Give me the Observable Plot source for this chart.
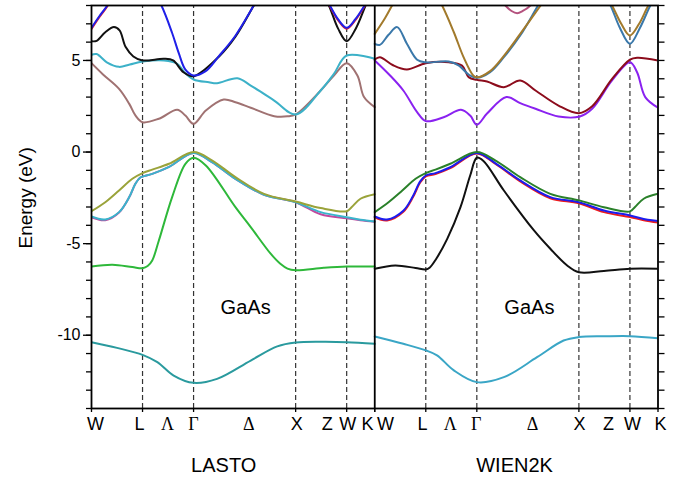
<!DOCTYPE html>
<html><head><meta charset="utf-8">
<script src="https://cdn.jsdelivr.net/npm/d3@7"></script>
<script src="https://cdn.jsdelivr.net/npm/@observablehq/plot@0.6"></script>
<style>body{margin:0;background:#fff}</style>
</head><body><div id="chart"></div>
<script>
// k-path: W L Γ X W K  (panel units)
const K = 5.55;
const symPoints = [1, 2, 4, 5];
const kTickPoints = [0, 1, 2, 4, 5, 5.55];
const kLabels = ["W", "L", "Λ", "Γ", "Δ", "X", "Z", "W", "K"];
const kLabelPosL = [0.08, 0.94, 1.49, 2.0, 3.08, 4.02, 4.62, 5.02, 5.41];
const kLabelPosR = [0.21, 0.935, 1.48, 1.99, 3.09, 4.01, 4.58, 5.05, 5.6];
const panelTitles = ["LASTO", "WIEN2K"];
const panelTitlePos = [2.59, 8.29];
const materialLabel = "GaAs";
const materialPos = [[3.02, -8.47], [8.58, -8.47]];
const yMajor = [-10, -5, 0, 5];
const yTitle = "Energy (eV)";
const yTitlePos = [-1.29, -2.5];

// ---------- LASTO bands [k, E] ----------
const lastoCore = [[0,-10.38],[0.5,-10.69],[1,-11.07],[1.29,-11.47],[1.61,-12.2],[2,-12.6],[2.46,-12.38],[3.12,-11.38],[3.64,-10.61],[4,-10.4],[4.5,-10.36],[5,-10.38],[5.55,-10.47]];
const lastoS = [[0,-6.25],[0.41,-6.15],[0.8,-6.28],[1,-6.34],[1.1,-6.22],[1.19,-5.92],[1.32,-4.83],[1.58,-2.46],[1.84,-0.64],[2,-0.31],[2.24,-0.73],[2.82,-3.01],[3.12,-4.1],[3.51,-5.55],[3.7,-6.1],[3.84,-6.36],[4,-6.45],[4.55,-6.32],[5,-6.25],[5.55,-6.25]];
const lastoV3 = [[0,-3.56],[0.27,-3.72],[0.54,-3.3],[0.74,-2.46],[0.86,-1.73],[0.95,-1.4],[1,-1.34],[1.19,-1.19],[1.52,-0.81],[2,-0.05],[2.36,-0.55],[2.82,-1.46],[3.38,-2.33],[4,-2.74],[4.49,-3.4],[5,-3.62],[5.27,-3.72],[5.55,-3.8]];
const lastoV2 = [[0,-3.52],[0.27,-3.68],[0.54,-3.28],[0.74,-2.46],[0.86,-1.73],[0.95,-1.4],[1,-1.34],[1.19,-1.19],[1.52,-0.81],[2,-0.05],[2.36,-0.55],[2.82,-1.46],[3.38,-2.33],[4,-2.74],[4.49,-3.28],[5,-3.56],[5.27,-3.7],[5.55,-3.79]];
const lastoV1 = [[0,-3.23],[0.27,-2.74],[0.54,-2.1],[0.8,-1.46],[1,-1.15],[1.19,-0.96],[1.52,-0.64],[2,0],[2.36,-0.45],[2.82,-1.37],[3.38,-2.28],[4,-2.7],[4.49,-3.06],[5,-3.23],[5.1,-3.0],[5.27,-2.55],[5.55,-2.3]];
const lastoC1 = [[0,4.85],[0.22,4.25],[0.54,3.45],[0.74,2.63],[0.86,2.0],[1,1.63],[1.32,1.82],[1.68,2.31],[1.84,1.99],[2,1.54],[2.24,2.27],[2.59,2.87],[2.82,2.72],[3.12,2.42],[3.58,1.96],[3.84,1.95],[4,2.05],[4.49,3.36],[4.75,4.18],[5,4.85],[5.21,4.18],[5.34,3.0],[5.55,2.45]];
const lastoC2 = [[0,5.31],[0.1,5.35],[0.3,4.9],[0.54,4.65],[0.75,4.78],[1,4.94],[1.42,5.0],[1.68,4.82],[1.84,4.3],[2,3.96],[2.3,3.81],[2.46,3.76],[2.86,4.03],[3.12,3.63],[3.58,2.81],[4,2.05],[4.49,3.36],[4.75,4.27],[5,5.27],[5.55,5.09]];
const lastoC3 = [[0,6.05],[0.1,6.07],[0.27,6.54],[0.44,6.82],[0.55,6.64],[0.67,5.73],[0.82,5.22],[1,5.0],[1.42,5.09],[1.6,5.0],[1.8,4.36],[2,4.14],[2.5,5.22],[2.82,6.3],[3.18,8.0],[3.35,8.8],null,[4.48,8.8],[4.65,8.0],[4.83,6.75],[5,6.05],[5.18,6.75],[5.37,8.0],[5.5,8.8]];
const lastoC4r = [[0,6.72],[0.15,7.35],[0.31,7.96],[0.45,8.7],null,[4.5,8.8],[4.67,7.96],[4.83,7.2],[5,6.73],[5.17,7.2],[5.35,7.96],[5.5,8.7]];
const lastoC4 = [[0,6.78],[0.15,7.4],[0.31,8.0],[0.45,8.7],null,[1.2,8.8],[1.37,8.0],[1.58,6.5],[1.71,5.4],[1.84,4.5],[2,4.18],[2.23,4.4],[2.5,5.25],[2.82,6.35],[3.18,8.0],[3.35,8.8],null,[4.5,8.8],[4.67,8.0],[4.83,7.25],[5,6.78],[5.17,7.25],[5.35,8.0],[5.5,8.7]];

// ---------- WIEN2K bands [k, E] ----------
const wienCore = [[0,-10.07],[0.56,-10.47],[1,-10.83],[1.22,-11.1],[1.55,-11.92],[2,-12.56],[2.53,-12.29],[3.18,-11.2],[3.7,-10.29],[4,-10.1],[4.5,-10.06],[5,-10.05],[5.55,-10.16]];
const wienS = [[0,-6.37],[0.4,-6.19],[0.8,-6.33],[1,-6.41],[1.08,-6.3],[1.2,-5.85],[1.42,-4.74],[1.68,-3.01],[1.87,-1.28],[2,-0.31],[2.13,-0.49],[2.53,-2.1],[3.12,-4.28],[3.44,-5.28],[3.77,-6.19],[4,-6.56],[4.49,-6.49],[5,-6.37],[5.55,-6.37]];
const wienV3 = [[0,-3.57],[0.24,-3.74],[0.56,-3.26],[0.75,-2.46],[0.89,-1.66],[1,-1.33],[1.19,-1.2],[1.48,-0.88],[2,-0.08],[2.36,-0.64],[2.85,-1.6],[3.44,-2.52],[4,-2.8],[4.49,-3.28],[5,-3.55],[5.27,-3.72],[5.55,-3.85]];
const wienV2 = [[0,-3.52],[0.24,-3.68],[0.56,-3.2],[0.75,-2.4],[0.89,-1.6],[1,-1.28],[1.19,-1.15],[1.48,-0.83],[2,-0.05],[2.36,-0.6],[2.85,-1.55],[3.44,-2.46],[4,-2.74],[4.49,-3.19],[5,-3.46],[5.27,-3.65],[5.55,-3.77]];
const wienV1 = [[0,-3.28],[0.27,-2.74],[0.54,-2.1],[0.8,-1.46],[1,-1.15],[1.19,-0.96],[1.48,-0.64],[2,0],[2.36,-0.45],[2.85,-1.37],[3.44,-2.28],[4,-2.64],[4.49,-3.01],[5,-3.24],[5.1,-3.0],[5.27,-2.55],[5.55,-2.28]];
const wienC1 = [[0,5.0],[0.3,4.18],[0.56,3.36],[0.83,2.18],[1,1.69],[1.35,1.9],[1.69,2.31],[1.87,1.99],[2,1.49],[2.2,2.1],[2.58,3.0],[2.85,2.67],[3.15,2.36],[3.6,1.94],[4.02,1.94],[4.26,2.36],[4.65,3.91],[5,4.9],[5.14,4.36],[5.3,3.0],[5.55,2.42]];
const wienC2 = [[0,5.05],[0.1,5.18],[0.35,4.75],[0.63,4.51],[1,4.85],[1.45,4.9],[1.71,4.72],[1.84,4.09],[2,3.94],[2.2,3.85],[2.53,3.54],[2.85,3.91],[3.15,3.36],[3.6,2.54],[4,2.12],[4.26,2.5],[4.65,3.99],[5,5.04],[5.14,5.15],[5.55,5.0]];
const wienC3 = [[0,5.91],[0.1,5.85],[0.27,6.4],[0.44,6.82],[0.63,5.91],[0.83,5.04],[1,4.9],[1.45,4.94],[1.65,4.72],[1.84,4.23],[2,4.05],[2.26,4.36],[2.53,5.18],[2.85,6.36],[3.2,8.0],[3.38,8.8],null,[4.45,8.8],[4.62,8.0],[4.8,6.8],[5,5.91],[5.2,6.8],[5.4,8.0],[5.55,8.7]];
const wienC4 = [[0,6.45],[0.2,7.3],[0.34,8.0],[0.5,8.8],null,[1.15,8.8],[1.32,8.0],[1.55,6.54],[1.74,5.18],[1.93,4.18],[2,4.08],[2.26,4.42],[2.53,5.25],[2.85,6.45],[3.25,8.0],[3.4,8.6],null,[4.48,8.8],[4.65,8.0],[4.83,7.0],[5,6.36],[5.18,7.0],[5.36,8.0],[5.5,8.6]];
const wienC5 = [[2.45,8.4],[2.56,8.0],[2.68,7.7],[2.79,7.58],[2.9,7.7],[3.05,8.0],[3.15,8.4]];

// ---------- styles ----------
const lastoStyle = [
  [lastoCore, "#2a9a9e"], [lastoS, "#2eb83a"], [lastoV3, "#c2489e"], [lastoV2, "#3ab4cc"],
  [lastoV1, "#9aa33a"], [lastoC1, "#a07272"], [lastoC2, "#3cb1c8"], [lastoC3, "#111111"],
  [lastoC4r, "#e8202a"], [lastoC4, "#2020e8"]
];
const wienStyle = [
  [wienCore, "#3aa6c6"], [wienS, "#111111"], [wienV3, "#ee1c1c"], [wienV2, "#1c1cee"],
  [wienV1, "#2a802a"], [wienC1, "#8a22f0"], [wienC2, "#8c0c1c"], [wienC3, "#3a78aa"],
  [wienC4, "#a27a2c"], [wienC5, "#b4527e"]
];

const toRows = (arr, off) => arr.map(p => p == null ? {x: NaN, E: NaN} : {x: p[0] + off, E: p[1]});

const bandMarks = [];
for (const [arr, color] of lastoStyle) bandMarks.push(Plot.line(toRows(arr, 0), {x: "x", y: "E", stroke: color, strokeWidth: 2, curve: "catmull-rom", clip: true}));
for (const [arr, color] of wienStyle) bandMarks.push(Plot.line(toRows(arr, K), {x: "x", y: "E", stroke: color, strokeWidth: 2, curve: "catmull-rom", clip: true}));

const dashX = [...symPoints, ...symPoints.map(d => d + K)];
const tickX = [...kTickPoints, ...kTickPoints.map(d => d + K)];
const labelRows = [
  ...kLabels.map((t, i) => ({t, x: kLabelPosL[i]})),
  ...kLabels.map((t, i) => ({t, x: kLabelPosR[i] + K}))
];
const isGreek = t => /[\u0370-\u03FF]/.test(t);
const sans = "Liberation Sans, Arial, Helvetica, sans-serif";

const chart = Plot.plot({
  width: 682, height: 481,
  marginLeft: 91, marginRight: 24.5, marginTop: 5, marginBottom: 73,
  style: {fontFamily: sans, fontSize: "16px", color: "black", background: "white"},
  x: {domain: [0, 2 * K]},
  y: {domain: [-14, 8], label: null},
  marks: [
    Plot.ruleX(dashX, {y1: -14, y2: 8, stroke: "#333", strokeWidth: 1.2, strokeDasharray: "5,3"}),
    ...bandMarks,
    Plot.frame({stroke: "black", strokeWidth: 1.8}),
    Plot.ruleX([K], {y1: -14, y2: 8, stroke: "black", strokeWidth: 1.8}),
    Plot.axisY({anchor: "left", ticks: yMajor, tickSize: 8, tickPadding: 3, tickFormat: d => String(d), fontSize: 16, label: null, strokeWidth: 1.3}),
    Plot.axisY({anchor: "left", ticks: d3.range(-14, 9), tickSize: 5, tickFormat: () => "", label: null, strokeWidth: 1.3}),
    Plot.axisY({anchor: "right", ticks: d3.range(-14, 9), tickSize: 6, tickFormat: () => "", label: null, strokeWidth: 1.3}),
    Plot.axisX({ticks: tickX, tickSize: 4, tickFormat: () => "", label: null, strokeWidth: 1.3}),
    Plot.text(labelRows.filter(d => !isGreek(d.t)), {x: "x", y: () => -14, dy: 16, text: "t", fontSize: 18, fontFamily: sans}),
    Plot.text(labelRows.filter(d => isGreek(d.t)), {x: "x", y: () => -14, dy: 16, text: "t", fontSize: 18, fontFamily: "Liberation Serif, Times New Roman, serif"}),
    Plot.text(panelTitles, {x: (d, i) => panelTitlePos[i], y: () => -14, dy: 57, text: d => d, fontSize: 20}),
    Plot.text(materialPos, {x: d => d[0], y: d => d[1], text: () => materialLabel, fontSize: 20}),
    Plot.text([yTitle], {x: () => yTitlePos[0], y: () => yTitlePos[1], rotate: -90, textAnchor: "middle", text: d => d, fontSize: 19})
  ]
});
document.getElementById("chart").appendChild(chart);
</script></body></html>
